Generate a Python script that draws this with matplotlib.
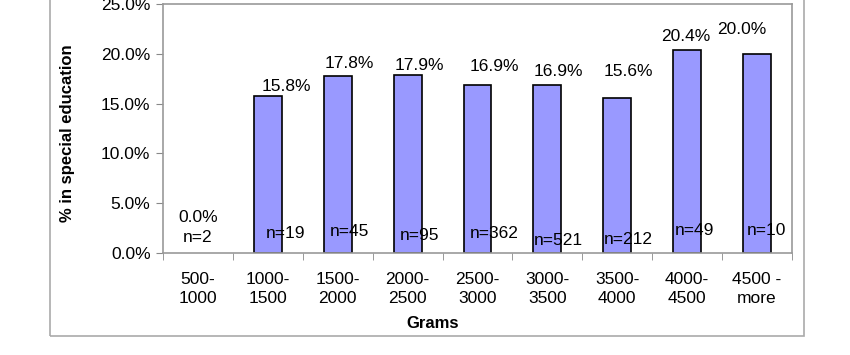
import numpy as np
import matplotlib.pyplot as plt
from matplotlib.patches import Rectangle

plt.rcParams['font.family'] = ['Liberation Sans', 'DejaVu Sans']

categories = ["500-\n1000", "1000-\n1500", "1500-\n2000", "2000-\n2500", "2500-\n3000",
              "3000-\n3500", "3500-\n4000", "4000-\n4500", "4500 -\nmore"]
pct = [0.0, 15.8, 17.8, 17.9, 16.9, 16.9, 15.6, 20.4, 20.0]
counts = [2, 19, 45, 95, 362, 521, 212, 49, 10]

# label placement (x offset in categories, y in % units) - moved by hand like in excel
pct_dx = [0.0, 0.26, 0.17, 0.17, 0.24, 0.16, 0.16, -0.02, -0.22]
pct_y = [3.6, 16.7, 19.0, 18.8, 18.7, 18.2, 18.2, 21.7, 22.4]
n_dx = [0.0, 0.26, 0.17, 0.17, 0.24, 0.16, 0.16, 0.11, 0.13]
n_y = [1.55, 2.0, 2.2, 1.8, 2.0, 1.3, 1.4, 2.3, 2.3]

fig = plt.figure(figsize=(8.5, 3.55), dpi=100)
ax = fig.add_axes([163/850, 1 - 253/355, 629/850, 249/355])

x = np.arange(len(categories))
bars = ax.bar(x, pct, 0.4, color="#9999ff", edgecolor="black", linewidth=1.2, zorder=2)
for b, v in zip(bars, pct):
    if v == 0:
        b.set_linewidth(0)

for i in range(len(x)):
    ax.text(x[i] + pct_dx[i], pct_y[i], f"{pct[i]:.1f}%", ha="center", va="center", fontsize=12.5, zorder=3)
    ax.text(x[i] + n_dx[i], n_y[i], f"n={counts[i]}", ha="center", va="center", fontsize=12.5, zorder=3)

ax.set_xlim(-0.5, len(x) - 0.5)
ax.set_ylim(0, 25)
ax.set_yticks(np.arange(0, 26, 5))
ax.set_yticklabels([f"{v:.1f}%" for v in np.arange(0, 26, 5)], fontsize=12.5)
ax.set_xticks(x)
ax.set_xticklabels(categories, fontsize=12.5, linespacing=1.3)
ax.set_xticks(np.arange(-0.5, len(x), 1), minor=True)
ax.tick_params(axis="x", which="major", length=0, pad=14)
ax.tick_params(axis="x", which="minor", length=5, color="#888888")
ax.tick_params(axis="y", length=5, color="#888888", pad=4)

for s in ax.spines.values():
    s.set_color("#999999")
    s.set_linewidth(1.2)

ax.set_ylabel("% in special education", fontsize=12, fontweight="bold", labelpad=10)
ax.yaxis.set_label_coords(-0.14, 0.48)
ax.set_xlabel("Grams", fontsize=12, fontweight="bold")
ax.xaxis.set_label_coords((433 - 163) / 629, -0.254)

fig.patches.append(Rectangle((50/850, 1 - 336/355), 754/850, 0.99, transform=fig.transFigure,
                             fill=False, edgecolor="#aaaaaa", linewidth=1.2))

fig.savefig("out.png", dpi=100)
